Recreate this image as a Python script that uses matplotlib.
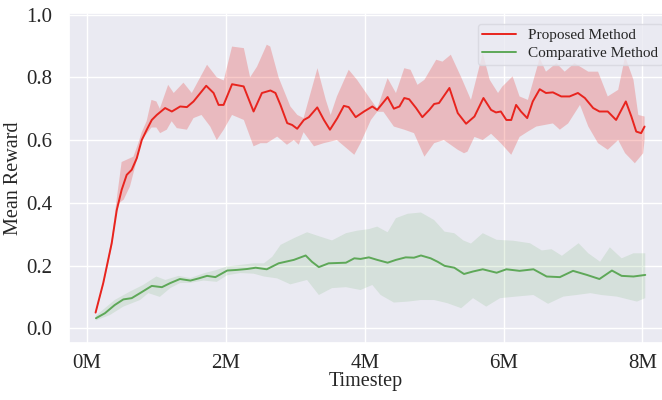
import numpy as np
import matplotlib
matplotlib.use('Agg')
import matplotlib.pyplot as plt
import seaborn as sns

# values (timestep in millions)
prop_x = [0.125, 0.235, 0.357, 0.43, 0.50, 0.573, 0.645, 0.718, 0.79, 0.862, 0.934, 1.006, 1.126, 1.223,
          1.343, 1.44, 1.535, 1.718, 1.824, 1.896, 1.968, 2.09, 2.257, 2.40, 2.52, 2.643, 2.715, 2.787,
          2.884, 2.956, 3.028, 3.124, 3.196, 3.317, 3.413, 3.50, 3.606, 3.70, 3.77, 3.87, 3.99, 4.11,
          4.18, 4.33, 4.42, 4.50, 4.57, 4.64, 4.74, 4.83, 4.93, 5.0, 5.07, 5.22, 5.34, 5.46, 5.58, 5.71,
          5.82, 5.89, 5.96, 6.04, 6.11, 6.18, 6.25, 6.34, 6.42, 6.52, 6.61, 6.71, 6.83, 6.95, 7.07, 7.17,
          7.29, 7.38, 7.50, 7.62, 7.76, 7.84, 7.91, 7.98, 8.03]
prop_mean = [0.05, 0.144, 0.271, 0.377, 0.441, 0.489, 0.505, 0.542, 0.60, 0.633, 0.664, 0.68, 0.702, 0.691,
             0.707, 0.705, 0.723, 0.773, 0.75, 0.712, 0.712, 0.778, 0.771, 0.691, 0.75, 0.758, 0.75, 0.712,
             0.654, 0.648, 0.636, 0.664, 0.673, 0.704, 0.664, 0.633, 0.67, 0.709, 0.705, 0.673, 0.691, 0.707,
             0.696, 0.737, 0.70, 0.707, 0.734, 0.73, 0.702, 0.673, 0.696, 0.715, 0.718, 0.766, 0.686, 0.652,
             0.675, 0.734, 0.696, 0.688, 0.691, 0.664, 0.664, 0.712, 0.691, 0.67, 0.723, 0.762, 0.75, 0.752,
             0.739, 0.739, 0.75, 0.734, 0.702, 0.691, 0.691, 0.664, 0.723, 0.675, 0.627, 0.622, 0.643]

prop_up_x = [0.125, 0.24, 0.36, 0.44, 0.50, 0.67, 0.74, 0.79, 0.86, 0.93, 1.0, 1.05, 1.17, 1.25, 1.39, 1.51,
             1.73, 1.87, 1.97, 2.09, 2.26, 2.35, 2.45, 2.59, 2.64, 2.76, 2.93, 3.03, 3.12, 3.32, 3.44, 3.51,
             3.6, 3.77, 3.89, 3.99, 4.09, 4.18, 4.33, 4.45, 4.57, 4.66, 4.76, 4.86, 5.03, 5.12, 5.24, 5.39,
             5.53, 5.70, 5.80, 5.92, 5.98, 6.13, 6.23, 6.35, 6.52, 6.61, 6.76, 6.88, 7.02, 7.22, 7.36, 7.50,
             7.65, 7.75, 7.87, 7.94, 8.03]
prop_up = [0.055, 0.15, 0.29, 0.43, 0.53, 0.547, 0.59, 0.625, 0.66, 0.728, 0.723, 0.70, 0.776, 0.75, 0.783,
           0.75, 0.84, 0.80, 0.79, 0.898, 0.893, 0.80, 0.834, 0.904, 0.898, 0.80, 0.707, 0.68, 0.67, 0.829,
           0.728, 0.68, 0.739, 0.824, 0.792, 0.76, 0.728, 0.70, 0.797, 0.75, 0.829, 0.824, 0.776, 0.792,
           0.856, 0.85, 0.872, 0.80, 0.728, 0.877, 0.792, 0.75, 0.77, 0.803, 0.739, 0.728, 0.861, 0.818,
           0.845, 0.818, 0.845, 0.818, 0.818, 0.739, 0.76, 0.866, 0.792, 0.68, 0.675]

prop_lo_x = [0.125, 0.24, 0.36, 0.43, 0.47, 0.53, 0.62, 0.70, 0.79, 0.93, 1.0, 1.054, 1.15, 1.22, 1.295,
             1.44, 1.535, 1.65, 1.776, 1.87, 1.97, 2.09, 2.26, 2.40, 2.5, 2.59, 2.74, 2.88, 2.98, 3.05, 3.12,
             3.27, 3.41, 3.6, 3.85, 3.94, 4.09, 4.18, 4.27, 4.42, 4.57, 4.71, 4.86, 5.0, 5.14, 5.34, 5.43,
             5.48, 5.58, 5.70, 5.82, 5.96, 6.11, 6.23, 6.35, 6.47, 6.59, 6.71, 6.81, 6.93, 7.10, 7.22, 7.36,
             7.50, 7.65, 7.75, 7.89, 8.01, 8.03]
prop_lo = [0.045, 0.138, 0.26, 0.37, 0.40, 0.41, 0.452, 0.52, 0.60, 0.64, 0.64, 0.622, 0.633, 0.66, 0.638,
           0.633, 0.67, 0.68, 0.643, 0.60, 0.633, 0.68, 0.664, 0.58, 0.59, 0.59, 0.611, 0.585, 0.60, 0.585,
           0.625, 0.58, 0.59, 0.60, 0.553, 0.59, 0.664, 0.69, 0.69, 0.643, 0.633, 0.622, 0.547, 0.59, 0.60,
           0.569, 0.558, 0.563, 0.61, 0.60, 0.62, 0.59, 0.553, 0.61, 0.627, 0.643, 0.648, 0.653, 0.633,
           0.653, 0.712, 0.643, 0.59, 0.569, 0.60, 0.558, 0.526, 0.558, 0.60]

comp_x = [0.13, 0.26, 0.40, 0.525, 0.645, 0.765, 0.934, 1.08, 1.20, 1.34, 1.49, 1.61, 1.73, 1.85, 2.02,
          2.16, 2.31, 2.43, 2.59, 2.76, 2.98, 3.15, 3.24, 3.34, 3.48, 3.73, 3.85, 3.94, 4.06, 4.18, 4.33,
          4.45, 4.59, 4.71, 4.81, 4.95, 5.05, 5.15, 5.29, 5.43, 5.56, 5.70, 5.90, 6.04, 6.23, 6.43, 6.62,
          6.81, 7.0, 7.20, 7.38, 7.56, 7.70, 7.87, 8.04]
comp_mean = [0.032, 0.048, 0.074, 0.092, 0.096, 0.112, 0.135, 0.131, 0.144, 0.157, 0.152, 0.159, 0.167,
             0.163, 0.184, 0.186, 0.189, 0.193, 0.188, 0.207, 0.218, 0.232, 0.212, 0.195, 0.207, 0.209,
             0.223, 0.221, 0.226, 0.218, 0.209, 0.218, 0.226, 0.225, 0.232, 0.223, 0.212, 0.199, 0.193,
             0.173, 0.181, 0.188, 0.177, 0.188, 0.183, 0.188, 0.165, 0.163, 0.183, 0.170, 0.157, 0.184,
             0.167, 0.165, 0.170]

comp_up_x = [0.13, 0.40, 0.62, 0.81, 1.0, 1.13, 1.32, 1.49, 1.68, 1.87, 2.02, 2.21, 2.40, 2.55, 2.67,
             2.79, 2.98, 3.17, 3.36, 3.53, 3.73, 3.89, 4.06, 4.18, 4.33, 4.45, 4.62, 4.81, 5.0, 5.15, 5.29,
             5.42, 5.53, 5.70, 5.90, 6.14, 6.38, 6.55, 6.69, 6.84, 7.08, 7.22, 7.39, 7.53, 7.70, 7.87, 8.04]
comp_up = [0.04, 0.09, 0.117, 0.138, 0.165, 0.154, 0.167, 0.16, 0.175, 0.186, 0.197, 0.202, 0.207, 0.207,
           0.228, 0.266, 0.287, 0.306, 0.292, 0.28, 0.303, 0.311, 0.316, 0.324, 0.306, 0.351, 0.365, 0.369,
           0.345, 0.308, 0.303, 0.28, 0.27, 0.303, 0.282, 0.279, 0.271, 0.248, 0.252, 0.231, 0.271, 0.239,
           0.212, 0.258, 0.223, 0.239, 0.239]

comp_lo_x = [0.13, 0.33, 0.525, 0.765, 0.885, 1.05, 1.2, 1.34, 1.49, 1.68, 1.87, 2.02, 2.21, 2.40, 2.55,
             2.74, 2.93, 3.17, 3.34, 3.53, 3.73, 3.94, 4.11, 4.23, 4.42, 4.62, 4.81, 5.0, 5.19, 5.39, 5.56,
             5.75, 5.95, 6.18, 6.43, 6.64, 6.86, 7.05, 7.25, 7.41, 7.63, 7.92, 8.04]
comp_lo = [0.025, 0.042, 0.069, 0.09, 0.112, 0.10, 0.128, 0.144, 0.145, 0.152, 0.148, 0.169, 0.176, 0.174,
           0.165, 0.159, 0.14, 0.154, 0.106, 0.128, 0.131, 0.122, 0.138, 0.106, 0.082, 0.085, 0.09, 0.09,
           0.08, 0.064, 0.096, 0.069, 0.096, 0.101, 0.106, 0.078, 0.101, 0.106, 0.112, 0.106, 0.101, 0.085,
           0.096]

x_ticks = [0, 2, 4, 6, 8]
x_ticklabels = ['0M', '2M', '4M', '6M', '8M']
y_ticks = [0.0, 0.2, 0.4, 0.6, 0.8, 1.0]

sns.set_theme(style='darkgrid')
plt.rcParams['font.family'] = ['Liberation Serif', 'DejaVu Serif']

red = '#e8241e'
green = '#5ea858'

fig = plt.figure(figsize=(6.62, 4.0), dpi=100)
ax = fig.add_axes([0.104, 0.1425, 0.898, 0.825])


def band(xu, yu, xl, yl, color, alpha):
    # polygon: upper edge left->right, lower edge right->left
    xs = np.concatenate([np.asarray(xu), np.asarray(xl)[::-1]])
    ys = np.concatenate([np.asarray(yu), np.asarray(yl)[::-1]])
    ax.fill(xs, ys, color=color, alpha=alpha, linewidth=0)


band(prop_up_x, prop_up, prop_lo_x, prop_lo, red, 0.24)
band(comp_up_x, comp_up, comp_lo_x, comp_lo, green, 0.15)
ax.plot(prop_x, prop_mean, color=red, lw=1.4, label='Proposed Method')
ax.plot(comp_x, comp_mean, color=green, lw=1.4, label='Comparative Method')

ax.set_xlim(-0.26, 8.30)
ax.set_ylim(-0.047, 1.005)
ax.set_xticks(x_ticks)
ax.set_xticklabels(x_ticklabels)
ax.set_yticks(y_ticks)
ax.set_yticklabels(['%.1f' % v for v in y_ticks])
ax.tick_params(axis='x', labelsize=15, pad=2)
ax.tick_params(axis='y', labelsize=15, pad=6)
ax.set_xlabel('Timestep', fontsize=14.5, labelpad=-1)
ax.set_ylabel('Mean Reward', fontsize=14.5, labelpad=2)

ax.legend(loc='upper right', bbox_to_anchor=(1.012, 0.99), fontsize=11, frameon=True,
          facecolor='#eaeaf2', edgecolor='#d6d6de', framealpha=0.8, borderpad=0.3,
          labelspacing=0.3, handlelength=2.2)

fig.savefig('out.png', dpi=100)
